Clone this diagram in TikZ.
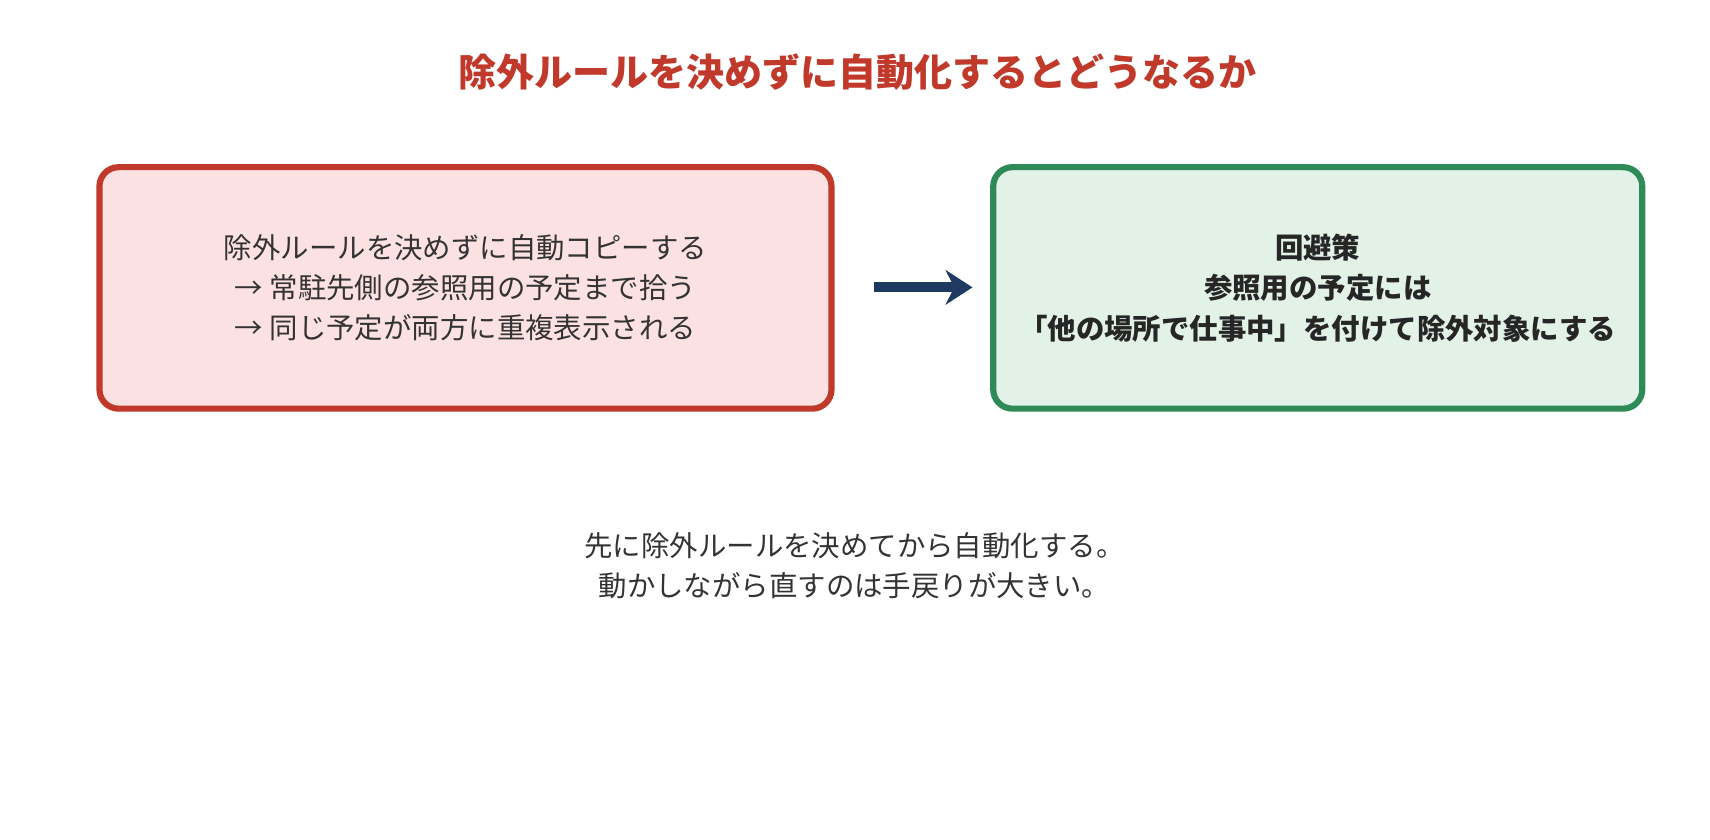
\documentclass[tikz,border=0pt]{standalone}
\usepackage{fontspec}
\setmainfont{Noto Sans CJK JP}
\usetikzlibrary{arrows.meta}
\definecolor{titlered}{HTML}{C0392B}
\definecolor{badfill}{HTML}{FBE1E2}
\definecolor{goodline}{HTML}{2E8B57}
\definecolor{goodfill}{HTML}{E2F2E7}
\definecolor{arrowblue}{HTML}{1F3A60}
\definecolor{bodytext}{HTML}{333333}
\tikzset{
  box/.style={draw, line width=1.6pt, rounded corners=5pt, inner sep=0pt},
  txt/.style={align=center, text=bodytext, font=\fontsize{7.4pt}{10.5pt}\selectfont}
}
\begin{document}
\begin{tikzpicture}[x=1cm, y=-1cm]
    \useasboundingbox (0,0) rectangle (15.65,7.68);

    % Title
    \node[text=titlered, font=\fontsize{9.9pt}{12pt}\selectfont\bfseries] (title) at (7.85,0.66) {除外ルールを決めずに自動化するとどうなるか};

    % Boxes
    \node[box, draw=titlered, fill=badfill, minimum width=6.70cm, minimum height=2.21cm] (bad) at (4.26,2.635) {};
    \node[txt] at (bad.center) {除外ルールを決めずに自動コピーする\\→ 常駐先側の参照用の予定まで拾う\\→ 同じ予定が両方に重複表示される};
    \node[box, draw=goodline, fill=goodfill, minimum width=5.94cm, minimum height=2.21cm] (good) at (12.06,2.635) {};
    \node[txt, font=\fontsize{7.4pt}{10.5pt}\selectfont\bfseries, text=black!85] at (good.center) {回避策\\参照用の予定には\\「他の場所で仕事中」を付けて除外対象にする};

    % Arrow
    \coordinate (a1) at (8.00,2.63);
    \coordinate (a2) at (8.90,2.63);
    \draw[arrowblue, line width=2.6pt, -{Stealth[length=7pt, width=9pt]}] (a1) -- (a2);

    % Note
    \node[txt] (note) at (7.82,5.18) {先に除外ルールを決めてから自動化する。\\動かしながら直すのは手戻りが大きい。};
\end{tikzpicture}
\end{document}
